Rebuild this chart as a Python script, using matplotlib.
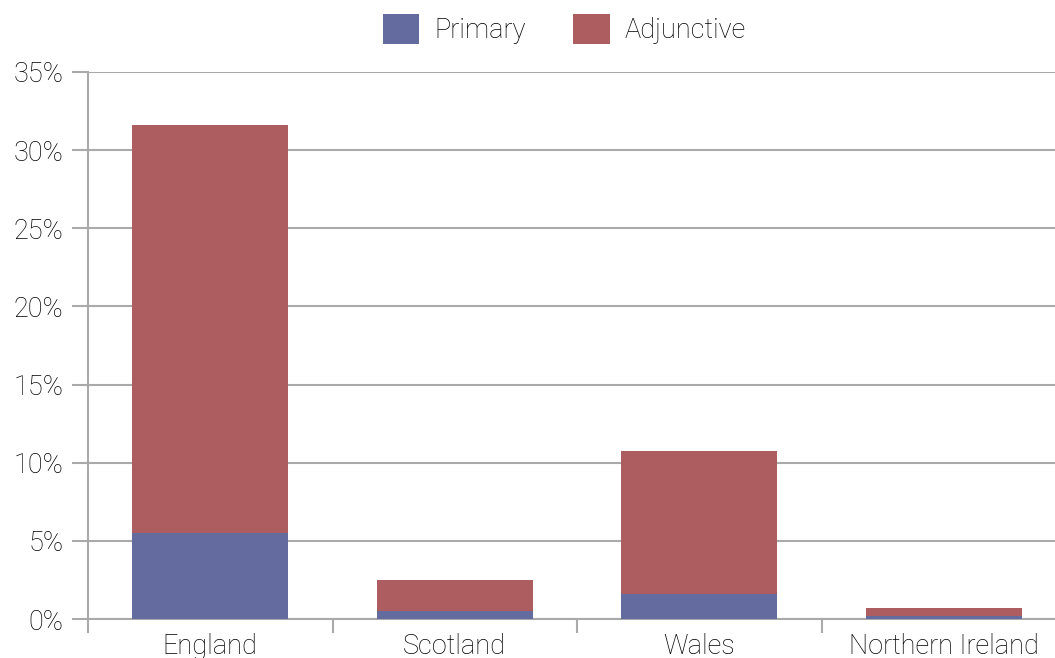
import numpy as np
import matplotlib.pyplot as plt
from matplotlib.ticker import FuncFormatter

# data (percent)
regions = ["England", "Scotland", "Wales", "Northern Ireland"]
primary = [5.5, 0.5, 1.6, 0.2]
adjunctive = [26.1, 2.0, 9.15, 0.5]

plt.rcParams['font.family'] = ['Roboto', 'DejaVu Sans']
plt.rcParams['font.weight'] = 'light'

blue = "#636b9f"
red = "#ad5c60"
grey = "#aaaaaa"
txt = "#000000"

fig = plt.figure(figsize=(10.55, 6.58), dpi=100)
ax = fig.add_axes([88/1055, 39/658, 978/1055, 547/658])

x = np.arange(len(regions))
ax.bar(x, primary, width=0.64, color=blue, label="Primary", zorder=3)
ax.bar(x, adjunctive, width=0.64, bottom=primary, color=red, label="Adjunctive", zorder=3)

ax.set_xlim(-0.5, 3.5)
ax.set_ylim(0, 35)
ax.set_yticks(np.arange(0, 36, 5))
ax.yaxis.set_major_formatter(FuncFormatter(lambda v, p: "%d%%" % v))
ax.grid(axis="y", color=grey, lw=1.5, zorder=0)

ax.set_xticks(x)
ax.set_xticklabels(regions)
ax.set_xticks([-0.5, 0.5, 1.5, 2.5], minor=True)
ax.tick_params(axis="x", which="major", length=0, pad=10, labelsize=19.5, labelcolor=txt)
ax.tick_params(axis="x", which="minor", length=10, width=1.5, color=grey)
ax.tick_params(axis="y", length=11.5, width=1.5, color=grey, pad=6, labelsize=19.5, labelcolor=txt)

for s in ["top", "right"]:
    ax.spines[s].set_visible(False)
for s in ["left", "bottom"]:
    ax.spines[s].set_color(grey)
    ax.spines[s].set_linewidth(1.5)

leg = fig.legend(loc="upper center", bbox_to_anchor=(0.535, 1.0), ncol=2, frameon=False,
                 fontsize=19.5, handlelength=1.35, handleheight=1.35, handletextpad=0.55,
                 columnspacing=1.75, borderaxespad=0.1)
for t in leg.get_texts():
    t.set_color(txt)

fig.savefig("out.png", dpi=100)
